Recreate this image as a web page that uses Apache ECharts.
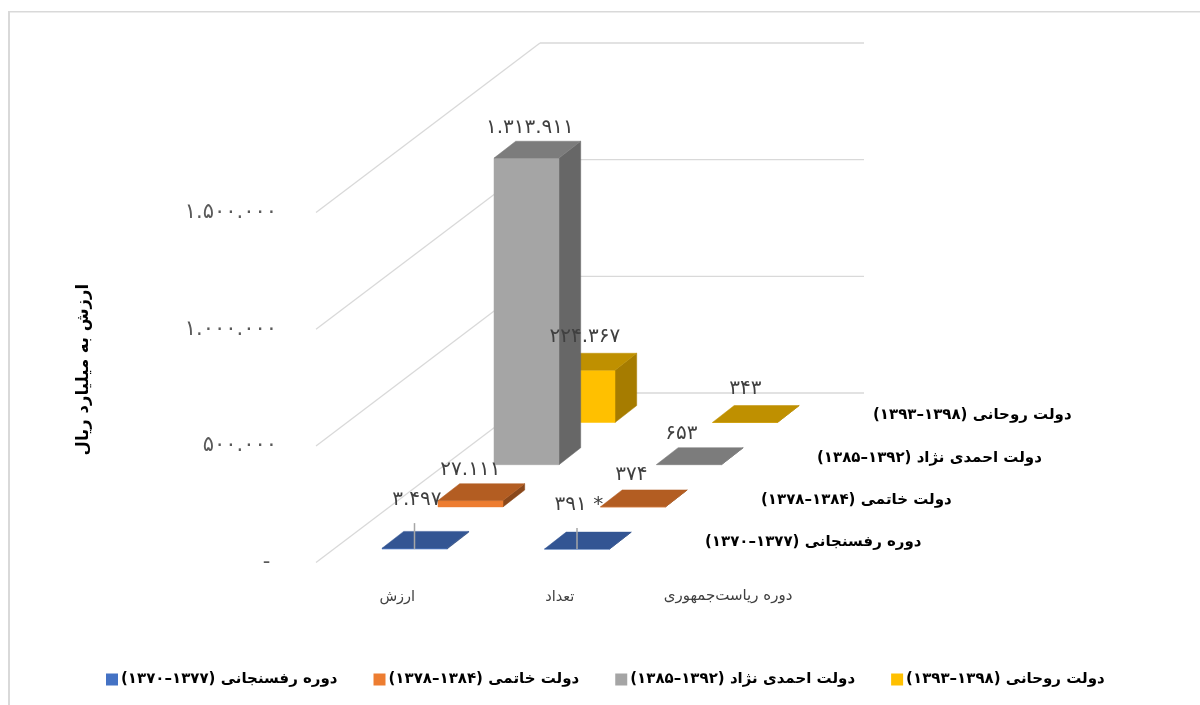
<!DOCTYPE html>
<html lang="fa" dir="rtl">
<head>
<meta charset="utf-8">
<style>html,body{margin:0;padding:0;background:#fff}#c{width:1200px;height:705px}</style>
<script src="https://cdn.jsdelivr.net/npm/echarts@6/dist/echarts.min.js"></script>
</head>
<body>
<div id="c"></div>
<script>
const categories = ['ارزش', 'تعداد'];
const depthAxisTitle = 'دوره ریاست‌جمهوری';
const valueAxisTitle = 'ارزش به میلیارد ریال';
const seriesNames = [
  'دوره رفسنجانی (۱۳۷۷–۱۳۷۰)',
  'دولت خاتمی (۱۳۸۴–۱۳۷۸)',
  'دولت احمدی نژاد (۱۳۹۲–۱۳۸۵)',
  'دولت روحانی (۱۳۹۸–۱۳۹۳)'
];
const rafsanjani = [3497, 391];
const khatami = [27111, 374];
const ahmadinejad = [1313911, 653];
const rouhani = [224367, 343];
const yTicks = [0, 500000, 1000000, 1500000];
const footnoteMarks = [['', '*'], ['', ''], ['', ''], ['', '']];

// Styling
const FONT = '"DejaVu Sans"';
const faces = [
  { front: '#4472c4', top: '#335593', side: '#2a4678' },
  { front: '#ed7d31', top: '#b35d22', side: '#8a481b' },
  { front: '#a5a5a5', top: '#7c7c7c', side: '#676767' },
  { front: '#ffc000', top: '#bf9000', side: '#a67c00' }
];
const ROW_DX = 56, ROW_DY = 42.2;       // one depth row in the oblique projection
const BAR_DX = 21.7, BAR_DY = 16.9;     // depth of a bar
const START_DX = 17.25, START_DY = 13.5;// front of the first bar from the front plane
const WALL_DX = ROW_DX * 4, WALL_DY = ROW_DY * 4 + 0.8;
const BAR_RATIO = 0.4;
// Data label nudges [dx, dy] from bar top centre, per series then category
const labelNudge = [
  [[-8.5, -40], [-9, -35.5]],
  [[-11, -22.5], [-12.5, -23.5]],
  [[-7.5, -21.5], [-18.5, -22.5]],
  [[-8.5, -24.5], [-10.5, -25.5]]
];
const leaderLen = [[26, 21], [0, 0], [0, 0], [0, 0]];

const allValues = [rafsanjani, khatami, ahmadinejad, rouhani];

function fa(n) {
  const s = String(n).replace(/\B(?=(\d{3})+(?!\d))/g, '.');
  return s.replace(/\d/g, d => '۰۱۲۳۴۵۶۷۸۹'[+d]);
}

function barItem(s) {
  return function (params, api) {
    const cat = api.value(0);
    const top = api.coord([cat, api.value(1)]);
    const base = api.coord([cat, 0]);
    const w = api.size([1, 0])[0] * BAR_RATIO;
    const ox = START_DX + ROW_DX * s, oy = START_DY + ROW_DY * s;
    const xl = top[0] - w / 2 + ox, xr = xl + w;
    const yt = top[1] - oy, yb = base[1] - oy;
    const f = faces[s];
    const poly = (pts, fill) => ({
      type: 'polygon', shape: { points: pts },
      style: { fill: fill, stroke: fill, lineWidth: 0.5 }, silent: true
    });
    const children = [
      poly([[xr, yt], [xr + BAR_DX, yt - BAR_DY], [xr + BAR_DX, yb - BAR_DY], [xr, yb]], f.side),
      poly([[xl, yt], [xr, yt], [xr, yb], [xl, yb]], f.front),
      poly([[xl, yt], [xr, yt], [xr + BAR_DX, yt - BAR_DY], [xl + BAR_DX, yt - BAR_DY]], f.top)
    ];
    const len = leaderLen[s][cat];
    if (len) {
      children.push({
        type: 'line', silent: true, z2: 5,
        shape: { x1: (xl + xr) / 2, y1: yb, x2: (xl + xr) / 2, y2: yb - len },
        style: { stroke: '#a6a6a6', lineWidth: 1.5 }
      });
    }
    return { type: 'group', children };
  };
}

function wallItem(params, api) {
  const c = api.coord([0, api.value(0)]);
  const g = params.coordSys;
  const xb = g.x + WALL_DX, yb = c[1] - WALL_DY;
  const st = { stroke: '#d9d9d9', lineWidth: 1.3 };
  return { type: 'group', silent: true, children: [
    { type: 'line', shape: { x1: g.x, y1: c[1], x2: xb, y2: yb }, style: st },
    { type: 'line', shape: { x1: xb, y1: yb, x2: xb + g.width - 1, y2: yb }, style: st }
  ]};
}

function labelItem(params, api) {
  const s = api.value(2), cat = api.value(0), v = api.value(1);
  const top = api.coord([cat, v]);
  const ox = START_DX + ROW_DX * s, oy = START_DY + ROW_DY * s;
  const [nx, ny] = labelNudge[s][cat];
  const mark = footnoteMarks[s][cat];
  return {
    type: 'text', silent: true,
    x: top[0] + ox + BAR_DX / 2 + nx,
    y: top[1] - oy - BAR_DY / 2 + ny,
    style: {
      text: (mark ? mark + ' ' : '') + fa(v),
      fill: '#404040', font: '20px ' + FONT,
      align: 'center', verticalAlign: 'middle'
    }
  };
}

function depthLabelItem(params, api) {
  const s = api.value(0);
  const g = params.coordSys;
  const base = api.coord([0, 0]);
  return {
    type: 'text', silent: true,
    x: g.x + g.width + 64 + ROW_DX * s,
    y: base[1] - 20.5 - ROW_DY * s,
    style: {
      text: seriesNames[s], fill: '#000', font: 'bold 15px ' + FONT,
      align: 'left', verticalAlign: 'middle'
    }
  };
}

const labelData = [];
allValues.forEach((vals, s) => vals.forEach((v, c) => labelData.push([c, v, s])));

const barSeries = seriesNames.map((name, s) => ({
  name, type: 'custom', renderItem: barItem(s), z: 5 + (3 - s),
  coordinateSystem: 'cartesian2d',
  itemStyle: { color: faces[s].front },
  encode: { x: 0, y: 1 },
  data: allValues[s].map((v, c) => [c, v])
}));

const chart = echarts.init(document.getElementById('c'), null, { renderer: 'canvas' });
chart.setOption({
  animation: false,
  backgroundColor: '#fff',
  textStyle: { fontFamily: FONT },
  tooltip: { show: false },
  grid: { left: 316, width: 325, top: 212.6, height: 350, containLabel: false },
  xAxis: {
    type: 'category', data: categories,
    axisLine: { show: false }, axisTick: { show: false }, splitLine: { show: false },
    axisLabel: { color: '#404040', fontSize: 14.5, margin: 27, fontFamily: FONT }
  },
  yAxis: {
    type: 'value', min: 0, max: yTicks[yTicks.length - 1], interval: yTicks[1] - yTicks[0],
    axisLine: { show: false }, axisTick: { show: false }, splitLine: { show: false },
    axisLabel: {
      color: '#595959', fontSize: 21, margin: 39, fontFamily: FONT,
      formatter: v => (v === 0 ? '\u00a0-' : fa(v))
    },
    name: valueAxisTitle, nameLocation: 'middle', nameGap: 224,
    nameTextStyle: { color: '#000', fontSize: 16.5, fontWeight: 'bold', fontFamily: FONT, padding: [0, 0, 0, 36] }
  },
  legend: {
    data: seriesNames, left: 101, top: 667, icon: 'rect',
    itemWidth: 12, itemHeight: 12, itemGap: 36,
    selectedMode: false,
    textStyle: { color: '#000', fontSize: 15, fontWeight: 'bold', fontFamily: FONT, padding: [0, 0, 0, -2] }
  },
  graphic: [
    { type: 'rect', silent: true, shape: { x: 8, y: 11, width: 1192, height: 1.5 }, style: { fill: '#d9d9d9' } },
    { type: 'rect', silent: true, shape: { x: 8, y: 11, width: 2, height: 694 }, style: { fill: '#d9d9d9' } },
    { type: 'text', silent: true, x: 728, y: 596,
      style: { text: depthAxisTitle, fill: '#404040', font: '15px ' + FONT, align: 'center', verticalAlign: 'middle' } }
  ],
  series: [
    { name: 'walls', type: 'custom', renderItem: wallItem, z: 1, silent: true,
      encode: { y: 0 }, data: yTicks.map(v => [v]) },
    ...barSeries,
    { name: 'depthLabels', type: 'custom', renderItem: depthLabelItem, z: 15, silent: true,
      data: seriesNames.map((n, s) => [s]) },
    { name: 'labels', type: 'custom', renderItem: labelItem, z: 20, silent: true, data: labelData }
  ]
});
</script>
</body>
</html>
